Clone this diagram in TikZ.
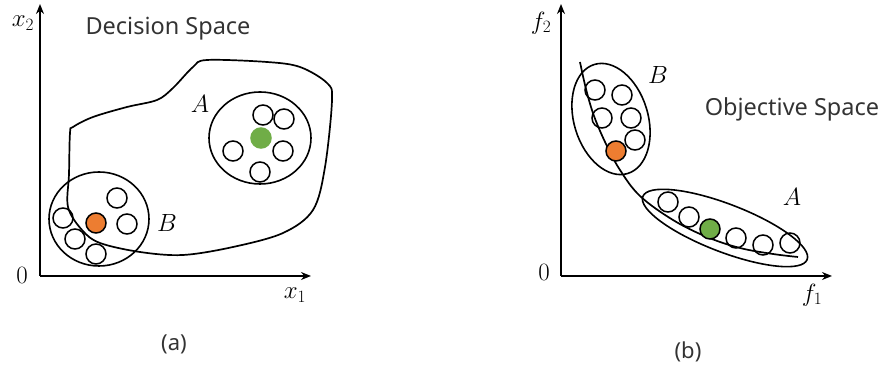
\documentclass[tikz,border=0pt]{standalone}
\usepackage{fontspec}
\setsansfont{Noto Sans}
\usetikzlibrary{shapes.geometric,arrows.meta}
\definecolor{dotorange}{HTML}{ED7D31}
\definecolor{dotgreen}{HTML}{70AD47}
\definecolor{txtgray}{HTML}{333333}
\tikzset{
  axis/.style={line width=1.9pt,-{Stealth[length=10pt,width=8pt]}},
  ln/.style={line width=1.7pt},
  dot/.style={circle,draw,line width=1.5pt,minimum size=20pt,inner sep=0pt,fill=white},
  grp/.style={ellipse,draw,line width=1.6pt,inner sep=0pt},
  mlab/.style={font=\fontsize{25}{30}\selectfont},
  slab/.style={font=\sffamily\fontsize{23.5}{28}\selectfont,text=txtgray},
  captxt/.style={font=\sffamily\fontsize{22}{26}\selectfont,text=txtgray},
}
\begin{document}
\begin{tikzpicture}[x=1pt,y=1pt]
\useasboundingbox (0,0) rectangle (884,374);
% ---------- (a) decision space ----------
\coordinate (o1) at (40,98);
\coordinate (y1) at (40,370);
\coordinate (x1) at (311,98);
\draw[axis] (o1) -- (y1);
\draw[axis] (o1) -- (x1);
\node[mlab] (lx2) at (23,351) {$x_2$};
\node[mlab] (lx1) at (295,79) {$x_1$};
\node[mlab] (z1) at (22,99) {$0$};
\node[slab] (ds) at (168,345) {Decision Space};
\draw[ln] plot[smooth cycle,tension=0.55] coordinates {
 (70,241) (69,200) (68,167) (82,144) (100,131) (140,122) (183,119) (233,127)
 (283,141) (313,164) (325,207) (332,274) (327,291) (300,307) (267,312)
 (207,314) (193,307) (173,286) (157,274) (127,267) (93,257) (73,247)};
\node[grp,minimum width=102pt,minimum height=92pt] (gA) at (260,236) {};
\node[dot] (a1) at (263,259) {};
\node[dot] (a2) at (284,255) {};
\node[dot] (a3) at (233,223) {};
\node[dot] (a4) at (283,223) {};
\node[dot] (a5) at (260,202) {};
\node[dot,draw=dotgreen,fill=dotgreen] (a6) at (261,236) {};
\node[mlab] (lA) at (200,270) {$A$};
\node[grp,minimum width=100pt,minimum height=94pt] (gB) at (99,155) {};
\node[dot,fill=none] (b1) at (117,176) {};
\node[dot,fill=none] (b2) at (63,156) {};
\node[dot,fill=none] (b3) at (127,150) {};
\node[dot,fill=none] (b4) at (75,135) {};
\node[dot,fill=none] (b5) at (96,120) {};
\node[dot,fill=dotorange] (b6) at (96,151) {};
\node[mlab] (lB) at (167,151) {$B$};
\node[captxt] (ca) at (174,30) {(a)};
% ---------- (b) objective space ----------
\coordinate (o2) at (561,98);
\coordinate (y2) at (561,370);
\coordinate (x2) at (832,98);
\draw[axis] (o2) -- (y2);
\draw[axis] (o2) -- (x2);
\node[mlab] (lf2) at (541,351) {$f_2$};
\node[mlab] (lf1) at (812,79) {$f_1$};
\node[mlab] (z2) at (544,102) {$0$};
\node[slab] (os) at (792,265) {Objective Space};
\node[grp,minimum width=114pt,minimum height=74pt,rotate=-73] (eB) at (611,255) {};
\node[grp,minimum width=176pt,minimum height=48pt,rotate=-21] (eA) at (725,146) {};
\draw[ln] plot[smooth,tension=0.6] coordinates {
 (580,312) (586,285) (594,258) (606,230) (620,204) (640,178) (673,154) (707,137) (740,126) (773,120) (798,117)};
\node[dot,fill=none] (p1) at (595,284) {};
\node[dot,fill=none] (p2) at (622,279) {};
\node[dot,fill=none] (p3) at (602,256) {};
\node[dot,fill=none] (p4) at (631,256) {};
\node[dot,fill=none] (p5) at (635,234) {};
\node[dot,fill=dotorange] (p6) at (616,223) {};
\node[mlab] (lB2) at (658,299) {$B$};
\node[dot,fill=none] (q1) at (668,172) {};
\node[dot,fill=none] (q2) at (689,157) {};
\node[dot,fill=dotgreen] (q3) at (710,145) {};
\node[dot,fill=none] (q4) at (736,136) {};
\node[dot,fill=none] (q5) at (763,129) {};
\node[dot,fill=none] (q6) at (790,131) {};
\node[mlab] (lA2) at (792,177) {$A$};
\node[captxt] (cb) at (688,22) {(b)};
\end{tikzpicture}
\end{document}
